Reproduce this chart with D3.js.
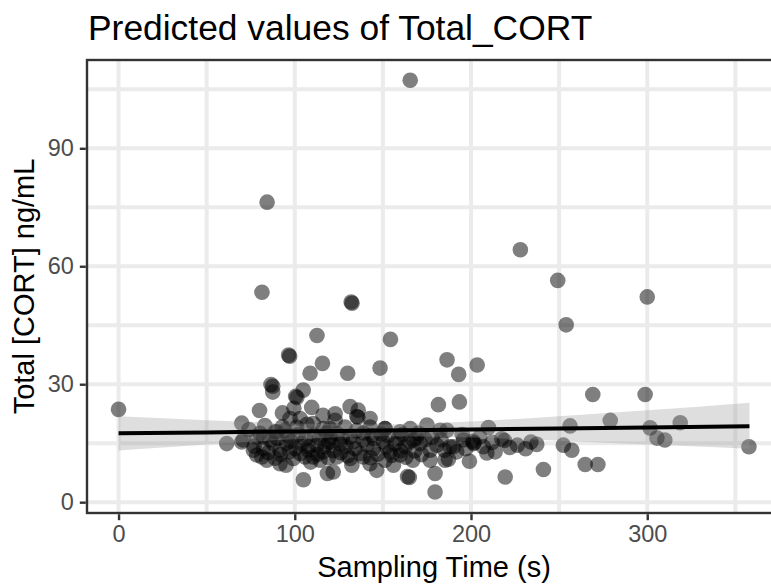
<!DOCTYPE html>
<html><head><meta charset="utf-8">
<script src="https://cdn.jsdelivr.net/npm/d3@7"></script>
<style>html,body{margin:0;padding:0;background:#fff;}svg{display:block;}</style>
</head><body>
<svg id="chart" width="771" height="585"></svg>
<script>
const samplingTime = [
0, 84.3, 81.4, 132, 132.5, 165.5, 228, 249.2, 254, 300,
96.5, 97.1, 112.6, 115.7, 154.3, 108.7, 130, 148.4, 86.5, 87.5,
87.5, 104.8, 100.5, 101.2, 80, 93, 109.6, 99.5, 131.4, 136,
135.2, 135.8, 122.9, 116, 181.5, 186.4, 193, 193.4, 203.5, 175,
186.3, 269.1, 298.8, 279, 256.2, 318.7, 301.6, 305.5, 310, 357.7,
252.4, 257.2, 264.8, 272, 241.1, 219.4, 209.9, 217.5, 219, 226.3,
234, 237.3, 201, 201.8, 209, 199.1, 187.2, 182.5, 213.7, 179.6,
179.6, 164, 165, 146.5, 132.4, 156, 121.8, 118.5, 167, 104.9,
95, 61.4, 69.9, 70.7, 76.5, 81.3, 88.8, 110.4, 80.3, 88.8,
151.2, 190,
69.9, 78.4, 82.2, 87.8, 91.6, 95.4, 100.2, 104, 107.7, 112.5, 116.2, 119.1,
94.5, 101.1, 110.5, 116.2, 89.8, 97.3, 103, 82.2, 78.4, 84.1, 91.6, 99.2, 105.8, 114.3,
120, 125.7, 131.4, 134.2, 138.9, 143.7, 144.6, 150.3, 154.1, 158.8, 162.6, 167.3, 171.1, 176.8, 180.6, 188.1, 191.9, 195.7, 201.4,
123.8, 131.4, 138.9, 142.7, 151.2, 159.8, 176.8, 185.3,
120, 128.5, 142.7, 151.2, 159.8, 165.5, 170.1, 122.9, 142.7,
74, 77, 83, 85, 86, 90, 92, 93, 96, 97, 98, 102, 103, 106, 107, 108, 109, 111, 113, 114,
117, 118, 119, 121, 122, 124, 126, 127, 129, 130, 133, 135, 137, 139, 141, 143, 145, 147, 149, 152,
153, 155, 157, 160, 161, 163, 165, 168, 169, 172, 174, 178, 183, 185, 195, 197, 205, 207, 212, 222, 231
];
const totalCort = [
23.6, 76.3, 53.4, 50.9, 50.6, 107.3, 64.2, 56.4, 45.1, 52.2,
37.4, 37.1, 42.4, 35.3, 41.4, 32.8, 32.8, 34.1, 29.9, 29.5,
28.0, 28.5, 26.9, 26.6, 23.3, 22.7, 24.1, 23.9, 24.3, 23.4,
21.8, 21.6, 22.5, 22.1, 24.8, 36.2, 32.5, 25.5, 34.9, 19.6,
18.3, 27.4, 27.4, 20.8, 19.4, 20.2, 18.9, 16.3, 15.8, 14.1,
14.5, 13.2, 9.6, 9.6, 8.3, 6.4, 19.0, 16.1, 15.7, 14.5,
15.3, 14.7, 15.5, 15.1, 12.5, 10.4, 10.9, 18.3, 12.8, 7.3,
2.6, 6.5, 6.3, 8.1, 9.4, 9.4, 7.7, 7.3, 10.7, 5.7,
9.4, 14.9, 20.1, 15.8, 13.2, 11.5, 11.2, 11.5, 17.5, 17.9,
18.7, 14.1,
15.3, 16.6, 13.6, 14.9, 13.2, 14.9, 13.6, 14.9, 13.2, 14.5, 12.8, 15.3,
18.3, 19.1, 20.0, 18.7, 17.9, 21.3, 21.3, 16.6, 12.0, 10.7, 9.8, 11.1, 11.5, 10.7,
16.6, 14.9, 16.6, 13.6, 15.8, 17.0, 13.6, 15.3, 12.8, 16.2, 14.1, 15.8, 14.9, 13.2, 14.5, 14.1, 12.8, 15.8, 14.9,
11.5, 11.1, 11.5, 9.8, 10.7, 12.0, 10.7, 10.7,
18.7, 19.1, 19.1, 18.7, 17.9, 18.7, 17.5, 20.8, 21.3,
18.5, 14.2, 19.5, 12.6, 15.8, 16.2, 12.1, 19.2, 16.8, 12.8, 15.5, 17.2, 12.4, 16.1, 19.8, 14.1, 10.2, 17.1, 12.2, 16.3,
14.1, 17.6, 11.3, 15.2, 13.1, 17.4, 12.6, 16.4, 14.2, 11.8, 15.4, 18.2, 12.4, 17.6, 14.6, 11.3, 16.1, 12.2, 17.4, 14.1,
16.9, 11.9, 14.8, 13.1, 17.2, 11.4, 15.3, 13.0, 16.4, 12.1, 15.9, 16.6, 15.9, 13.2, 17.2, 13.6, 16.6, 14.1, 15.2, 13.9, 13.6
];
// model prediction and 95% CI
const predTime  = [0, 50, 100, 150, 200, 250, 300, 358];
const predValue = [17.5, 17.75, 18.0, 18.25, 18.5, 18.76, 19.01, 19.3];
const predLower = [13.15, 14.64, 15.98, 16.75, 16.48, 15.65, 14.66, 13.6];
const predUpper = [21.85, 20.86, 20.02, 19.75, 20.52, 21.87, 23.36, 25.3];

const xTicks = [0, 100, 200, 300];
const xMinor = [50, 150, 250, 350];
const yTicks = [0, 30, 60, 90];
const yMinor = [15, 45, 75, 105];

const titleText = "Predicted values of Total_CORT";
const xTitle = "Sampling Time (s)";
const yTitle = "Total [CORT] ng/mL";

const FONT = "'Liberation Sans', Arial, Helvetica, sans-serif";
const svg = d3.select("#chart");
const P = {l: 87, r: 781, t: 60, b: 513};

const x = d3.scaleLinear().domain([-17.9, 375.9]).range([P.l, P.r]);
const y = d3.scaleLinear().domain([-2.75, 112.45]).range([P.b, P.t]);

svg.append("rect").attr("width", 771).attr("height", 585).attr("fill", "#fff");

const panel = svg.append("g");
panel.selectAll(".gx").data(xMinor.concat(xTicks)).join("line")
  .attr("x1", d => x(d)).attr("x2", d => x(d)).attr("y1", P.t).attr("y2", P.b)
  .attr("stroke", "#EBEBEB").attr("stroke-width", 4);
panel.selectAll(".gy").data(yMinor.concat(yTicks)).join("line")
  .attr("y1", d => y(d)).attr("y2", d => y(d)).attr("x1", P.l).attr("x2", P.r)
  .attr("stroke", "#EBEBEB").attr("stroke-width", 4);

const pts = samplingTime.map((t, i) => ({t, c: totalCort[i]}));
panel.selectAll("circle").data(pts).join("circle")
  .attr("cx", d => x(d.t)).attr("cy", d => y(d.c)).attr("r", 7.8)
  .attr("fill", "#000").attr("fill-opacity", 0.5);

const pred = predTime.map((t, i) => ({t, v: predValue[i], lo: predLower[i], hi: predUpper[i]}));
panel.append("path").datum(pred)
  .attr("d", d3.area().x(d => x(d.t)).y0(d => y(d.lo)).y1(d => y(d.hi)).curve(d3.curveMonotoneX))
  .attr("fill", "#999").attr("fill-opacity", 0.32);
panel.append("path").datum(pred)
  .attr("d", d3.line().x(d => x(d.t)).y(d => y(d.v)))
  .attr("fill", "none").attr("stroke", "#000").attr("stroke-width", 4);

svg.append("rect").attr("x", P.l).attr("y", P.t).attr("width", P.r - P.l).attr("height", P.b - P.t)
  .attr("fill", "none").attr("stroke", "#333").attr("stroke-width", 2.4);

const xAxis = svg.append("g").attr("transform", `translate(0,${P.b + 1.2})`)
  .call(d3.axisBottom(x).tickValues(xTicks).tickSize(6).tickPadding(5).tickFormat(d3.format("d")));
const yAxis = svg.append("g").attr("transform", `translate(${P.l - 1.2},0)`)
  .call(d3.axisLeft(y).tickValues(yTicks).tickSize(6).tickPadding(6).tickFormat(d3.format("d")));
[xAxis, yAxis].forEach(a => {
  a.select(".domain").remove();
  a.selectAll(".tick line").attr("stroke", "#333").attr("stroke-width", 2.4);
  a.selectAll(".tick text").attr("fill", "#4D4D4D").style("font-family", FONT).style("font-size", "23.5px");
});

svg.append("text").attr("x", 88).attr("y", 40).text(titleText)
  .style("font-family", FONT).style("font-size", "35.4px").attr("fill", "#000");
svg.append("text").attr("x", (P.l + P.r) / 2).attr("y", 577).attr("text-anchor", "middle").text(xTitle)
  .style("font-family", FONT).style("font-size", "29px").attr("fill", "#000");
svg.append("text").attr("transform", `translate(34,${(P.t + P.b) / 2}) rotate(-90)`).attr("text-anchor", "middle").text(yTitle)
  .style("font-family", FONT).style("font-size", "29px").attr("fill", "#000");
</script>
</body></html>
